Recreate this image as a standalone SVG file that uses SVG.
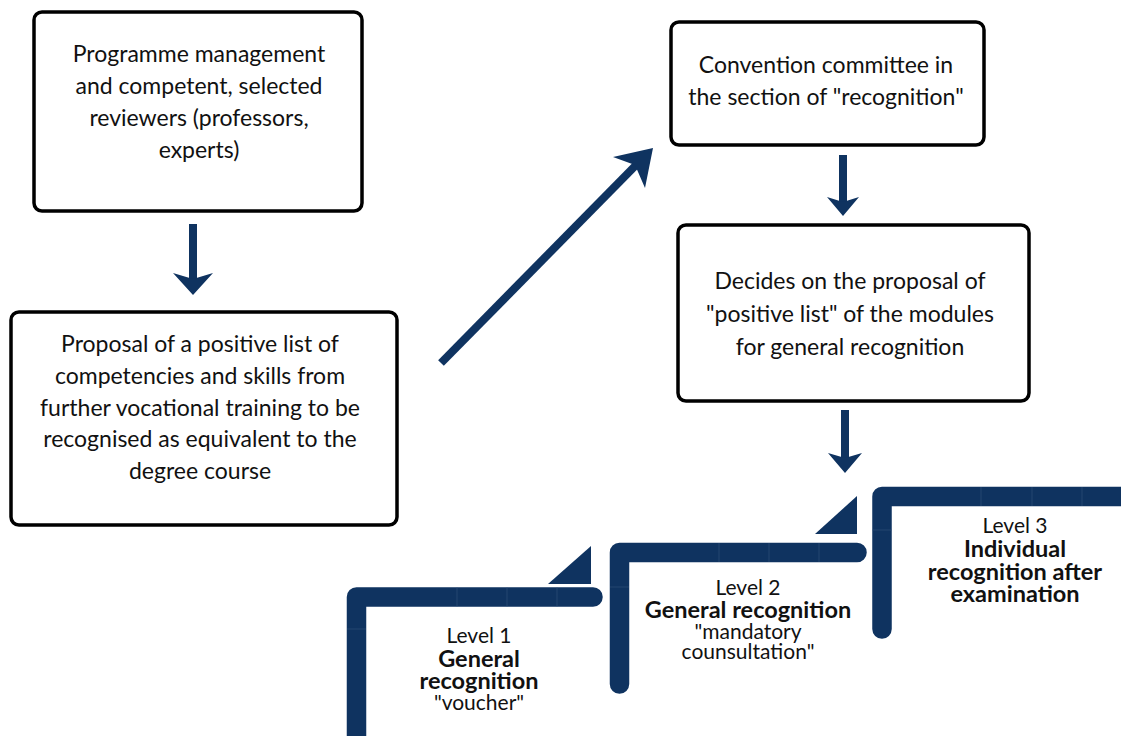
<svg xmlns="http://www.w3.org/2000/svg" width="1121" height="736" viewBox="0 0 1121 736">
<defs>
<style>
.box{fill:#fff;stroke:#000;stroke-width:3.5}
.t{font-family:Lato,"Open Sans","Liberation Sans",sans-serif;font-size:23px;fill:#111;text-anchor:middle}
.lv{font-family:Lato,"Open Sans","Liberation Sans",sans-serif;font-size:21px;font-weight:400;fill:#111;text-anchor:middle}
.b{font-family:Lato,"Open Sans","Liberation Sans",sans-serif;font-size:23.5px;font-weight:700;fill:#111;text-anchor:middle}
.sh{stroke:#0f3360;stroke-width:8;fill:none}
.hd{fill:#0f3360}
.step{stroke:#0f3360;stroke-width:19.5;fill:none;stroke-linecap:round;stroke-linejoin:round}
.seam{stroke:#3a5a84;stroke-width:0.8;opacity:0.6}
</style>
</defs>
<rect width="1121" height="736" fill="#fff"/>
<g id="node-management">
<rect class="box" x="34" y="12" width="328" height="199" rx="8"/>
<text class="t" x="199" y="62">Programme management</text>
<text class="t" x="199" y="94">and competent, selected</text>
<text class="t" x="199" y="126">reviewers (professors,</text>
<text class="t" x="199" y="158">experts)</text>
</g>
<g id="node-proposal">
<rect class="box" x="11" y="312" width="386" height="213" rx="8"/>
<text class="t" x="200" y="352">Proposal of a positive list of</text>
<text class="t" x="200" y="384">competencies and skills from</text>
<text class="t" x="200" y="416">further vocational training to be</text>
<text class="t" x="200" y="447">recognised as equivalent to the</text>
<text class="t" x="200" y="479">degree course</text>
</g>
<g id="node-committee">
<rect class="box" x="671" y="22" width="313" height="123" rx="8"/>
<text class="t" x="826" y="73">Convention committee in</text>
<text class="t" x="826" y="105">the section of "recognition"</text>
</g>
<g id="node-decides">
<rect class="box" x="678" y="225" width="351" height="176" rx="8"/>
<text class="t" x="850" y="289">Decides on the proposal of</text>
<text class="t" x="850" y="322">"positive list" of the modules</text>
<text class="t" x="850" y="355">for general recognition</text>
</g>
<g id="connectors">
<line class="sh" x1="193" y1="224" x2="193" y2="280"/>
<polygon class="hd" points="173,273 193,279 213,273 193,295"/>
<line class="sh" x1="843" y1="155" x2="843" y2="205"/>
<polygon class="hd" points="827,197 843,202 859,197 843,216"/>
<line class="sh" x1="845" y1="410" x2="845" y2="462"/>
<polygon class="hd" points="828,453 845,458 862,453 845,473"/>
<line class="sh" x1="441" y1="363" x2="640" y2="161"/>
<polygon class="hd" points="653,148 613,157 635,165 645,188"/>
</g>
<g id="level-1">
<path class="step" d="M356.5,745 V597 H593"/>
<polygon class="hd" points="548,584 591,546 591,584"/>
<line class="seam" x1="457" y1="587" x2="457" y2="607"/>
<line class="seam" x1="507" y1="587" x2="507" y2="607"/>
<line class="seam" x1="557" y1="587" x2="557" y2="607"/>
<line class="seam" x1="347" y1="629" x2="366" y2="629"/>
<text class="lv" x="479" y="643">Level 1</text>
<text class="b" x="479" y="667">General</text>
<text class="b" x="479" y="689">recognition</text>
<text class="lv" x="479" y="710">"voucher"</text>
</g>
<g id="level-2">
<path class="step" d="M619.5,684 V552.5 H857"/>
<polygon class="hd" points="815,534 857,496 857,534"/>
<line class="seam" x1="719" y1="543" x2="719" y2="562"/>
<line class="seam" x1="769" y1="543" x2="769" y2="562"/>
<line class="seam" x1="819" y1="543" x2="819" y2="562"/>
<line class="seam" x1="610" y1="587" x2="629" y2="587"/>
<text class="lv" x="748" y="595">Level 2</text>
<text class="b" x="748" y="618">General recognition</text>
<text class="lv" x="748" y="639">"mandatory</text>
<text class="lv" x="748" y="659">counsultation"</text>
</g>
<g id="level-3">
<path class="step" d="M882,629 V496.5 H1135"/>
<line class="seam" x1="981" y1="487" x2="981" y2="506"/>
<line class="seam" x1="1032" y1="487" x2="1032" y2="506"/>
<line class="seam" x1="1082" y1="487" x2="1082" y2="506"/>
<line class="seam" x1="872" y1="530" x2="892" y2="530"/>
<text class="lv" x="1015" y="533">Level 3</text>
<text class="b" x="1015" y="557">Individual</text>
<text class="b" x="1015" y="580">recognition after</text>
<text class="b" x="1015" y="602">examination</text>
</g>
</svg>
